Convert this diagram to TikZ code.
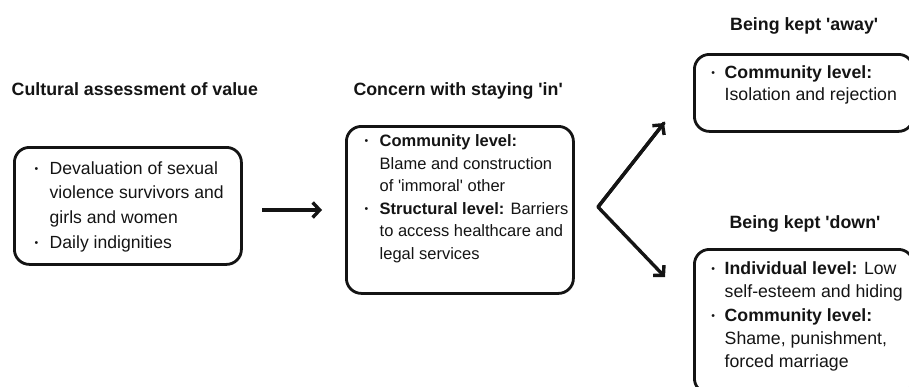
\documentclass[tikz,border=0pt]{standalone}
\usepackage{fontspec}
\setmainfont{Liberation Sans}
\usetikzlibrary{arrows.meta}
\definecolor{ink}{HTML}{141414}
\newcommand\bulx[2]{\makebox[#1pt][l]{\hspace*{#2pt}\raisebox{2pt}{\fontsize{10.5}{10.5}\selectfont •}}}
\newcommand\indx[1]{\hspace*{#1pt}}
\newcommand\boxtext[6]{\parbox[c][#2pt][t]{#1pt}{\fontsize{#3}{#4}\selectfont\vspace*{#5pt}\rule{0pt}{13pt}#6}}
\tikzset{
  boxnode/.style={draw=ink, line width=2.8pt, rounded corners=15pt, inner sep=0pt, anchor=north west, text=ink},
  titlenode/.style={inner sep=0pt, anchor=base west, text=ink, font=\fontsize{17.8}{20}\selectfont\bfseries},
  arr/.style={draw=ink, line width=3.4pt, -{Straight Barb[length=7pt,width=15pt]}}
}
\begin{document}
\begin{tikzpicture}[x=1pt,y=-1pt]
\useasboundingbox (0,0) rectangle (909,386);
\clip (0,0) rectangle (909,386);
% titles
\node[titlenode] (t1) at (11.5,95) {Cultural assessment of value};
\node[titlenode] (t2) at (353.3,95.5) {Concern with staying \textquotesingle in\textquotesingle};
\node[titlenode] (t3) at (730,30) {Being kept \textquotesingle away\textquotesingle};
\node[titlenode] (t4) at (729.3,228) {Being kept \textquotesingle down\textquotesingle};
% boxes
\node[boxnode] (b1) at (13,146) {\boxtext{227}{117}{17.6}{24.7}{13.7}{%
\bulx{35.3}{20.2}Devaluation of sexual\\
\indx{35.3}violence survivors and\\
\indx{35.3}girls and women\\
\bulx{35.3}{20.2}Daily indignities}};
\node[boxnode] (b2) at (345,125) {\boxtext{227}{167}{16.5}{22.6}{7}{%
\bulx{33.3}{18.2}\textbf{Community level:}\\
\indx{33.3}Blame and construction\\
\indx{33.3}of \textquotesingle immoral\textquotesingle{} other\\
\bulx{33.3}{18.2}\textbf{Structural level:} Barriers\\
\indx{33.3}to access healthcare and\\
\indx{33.3}legal services}};
\node[boxnode] (b3) at (693,53) {\boxtext{219}{77}{17.7}{22.7}{10.7}{%
\bulx{30.3}{17}\textbf{Community level:}\\
\indx{30.3}Isolation and rejection}};
\node[boxnode] (b4) at (693,248) {\boxtext{219}{144}{17.7}{23.3}{12}{%
\bulx{30.3}{17}\textbf{Individual level:} Low\\
\indx{30.3}self-esteem and hiding\\
\bulx{30.3}{17}\textbf{Community level:}\\
\indx{30.3}Shame, punishment,\\
\indx{30.3}forced marriage}};
% connectors
\coordinate (a1s) at (262,210);
\coordinate (a1e) at (322,210);
\coordinate (fork) at (598,207);
\coordinate (upend) at (664,123);
\coordinate (downend) at (665,277);
\draw[arr] (a1s) -- (a1e);
\draw[arr, line cap=round, line join=round] (upend) -- (fork) -- (downend);
\draw[arr] (fork) -- (upend);
\end{tikzpicture}
\end{document}
